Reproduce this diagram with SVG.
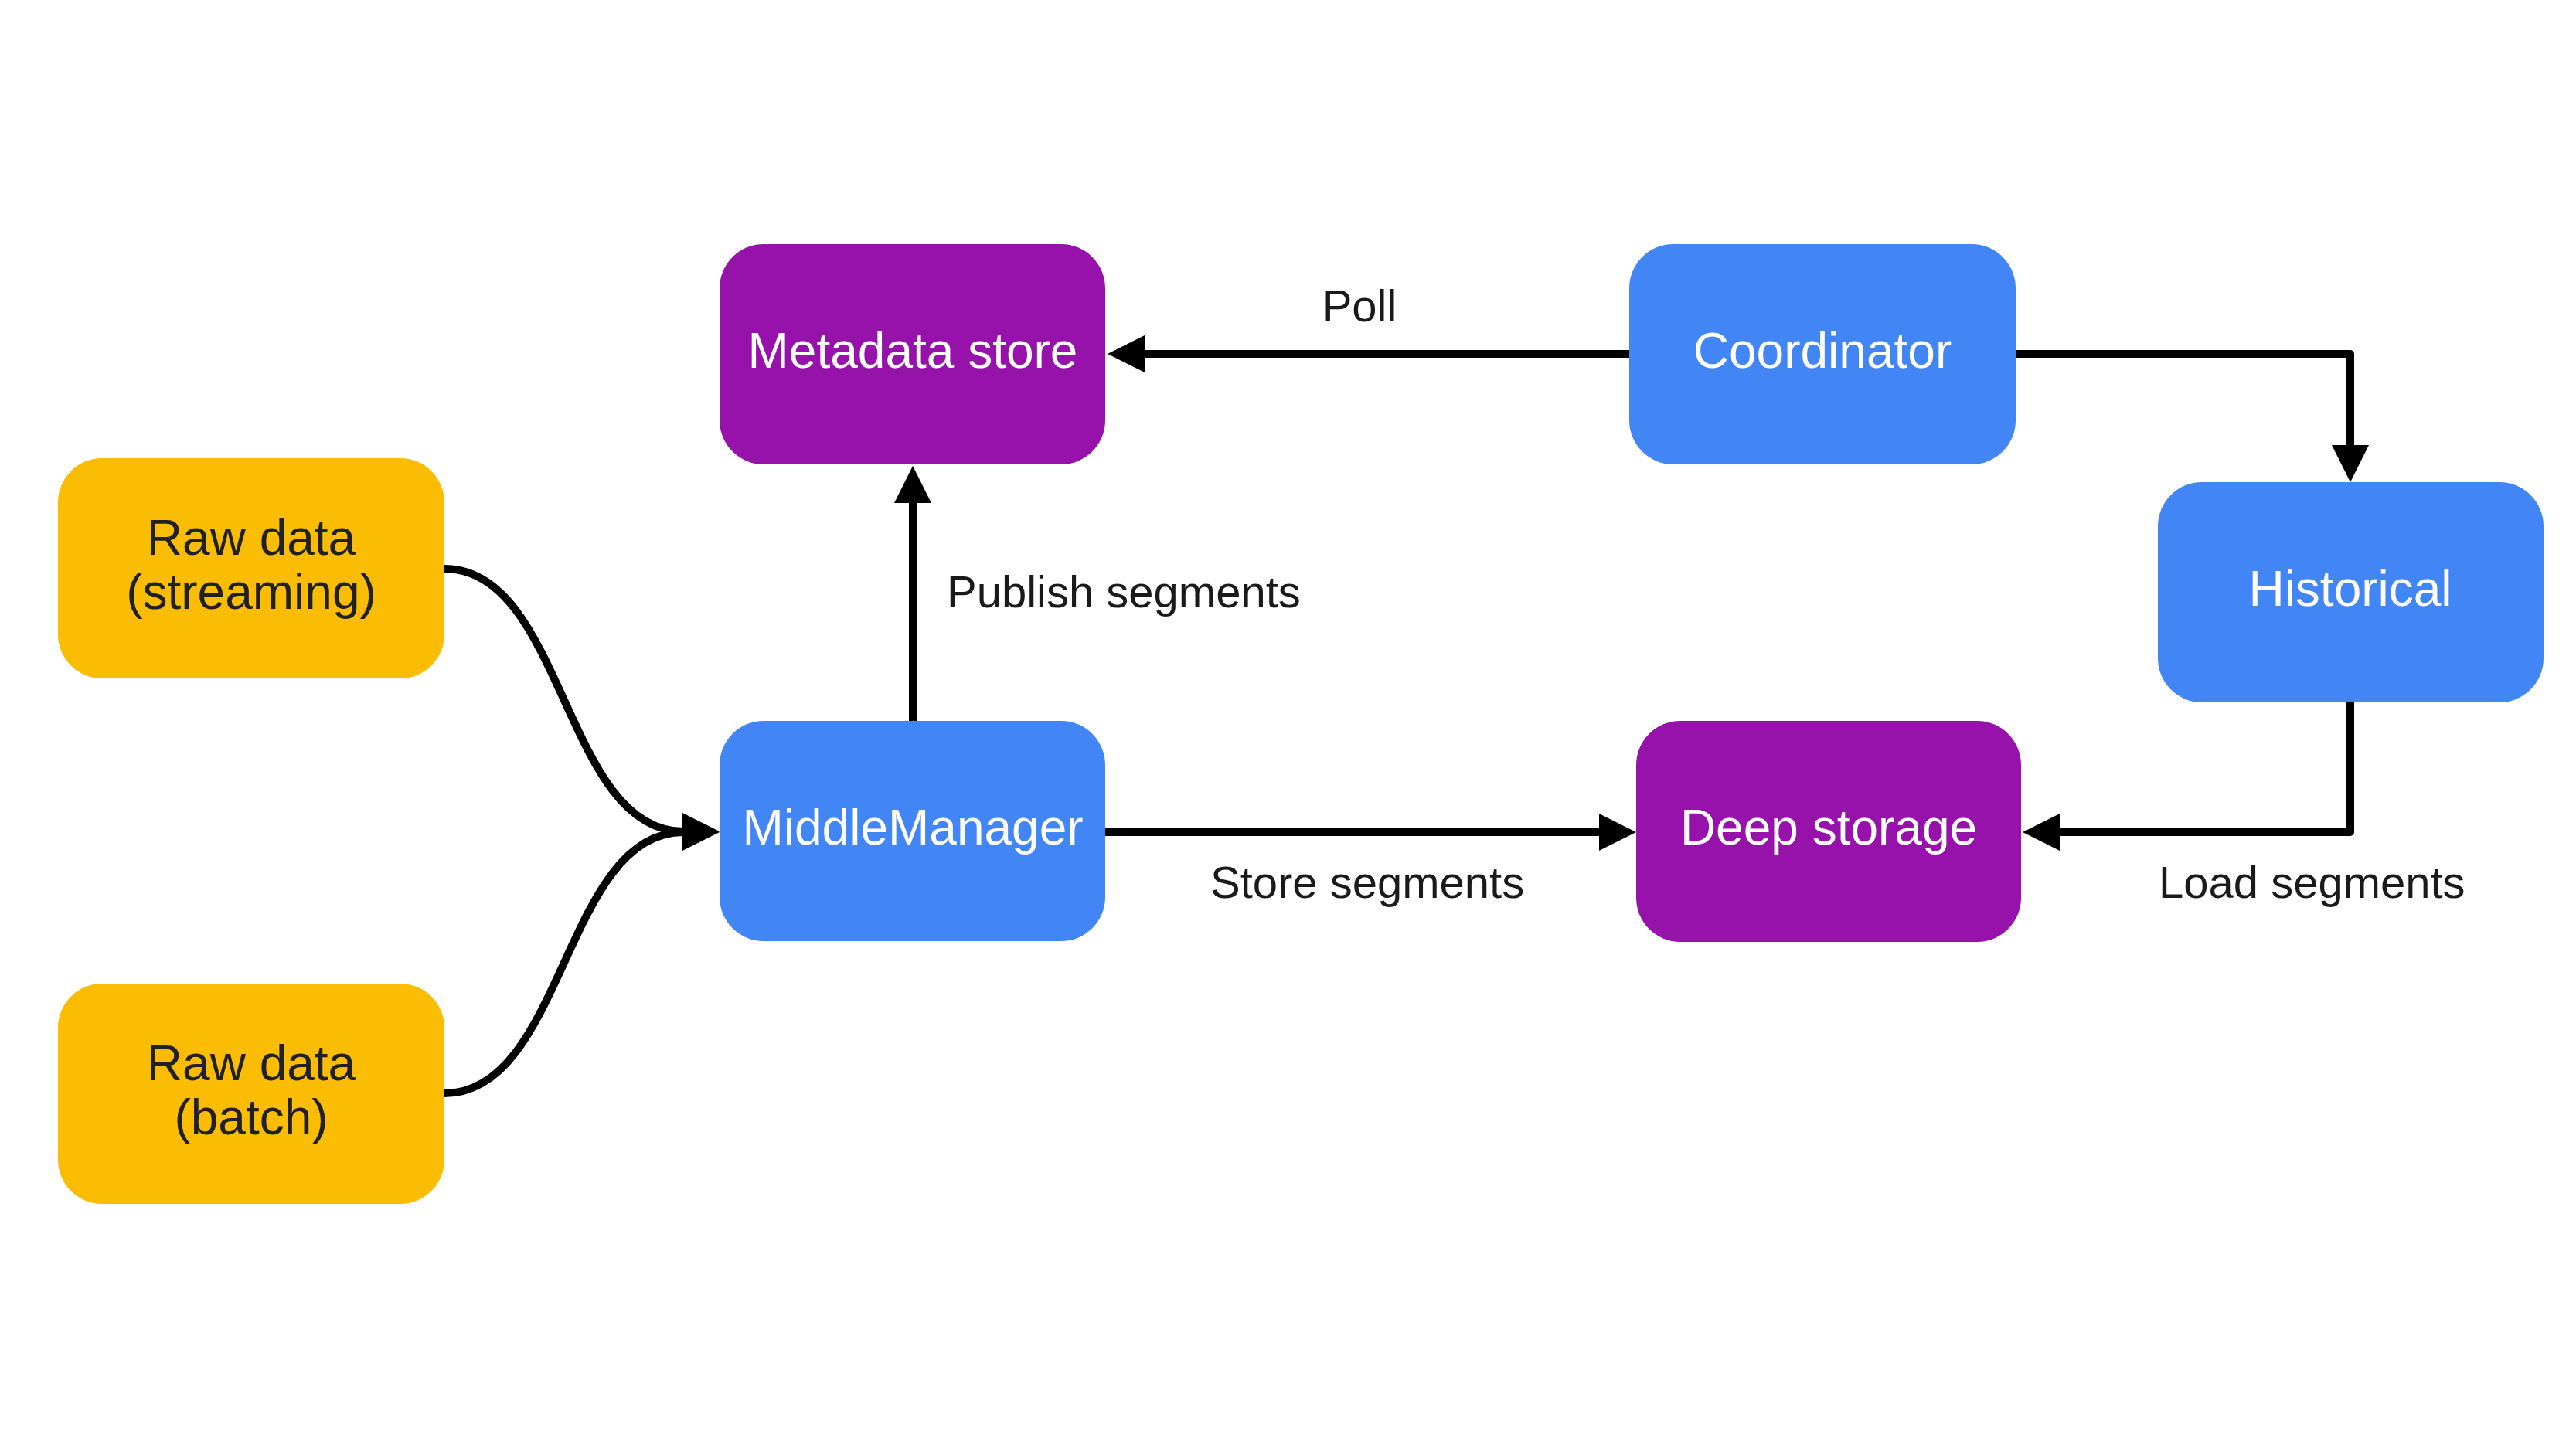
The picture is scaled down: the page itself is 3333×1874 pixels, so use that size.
<svg xmlns="http://www.w3.org/2000/svg" width="3333" height="1874" viewBox="0 0 3333 1874">
<style>
.node text{font-family:"Liberation Sans",Arial,sans-serif;font-size:64px;text-anchor:middle}
.yellow rect{fill:#FBBC04}
.yellow text{fill:#202124}
.purple rect{fill:#9612AB}
.blue rect{fill:#4285F4}
.purple text,.blue text{fill:#FFFFFF}
.edge{fill:none;stroke:#000;stroke-width:10;stroke-linejoin:round}
.lbl{font-family:"Liberation Sans",Arial,sans-serif;font-size:58px;fill:#1a1a1a}
</style>
<defs>
<marker id="arr" markerUnits="userSpaceOnUse" markerWidth="50" markerHeight="50" refX="1" refY="24" orient="auto" viewBox="0 0 50 50">
<path d="M0,0 L48,24 L0,48 Z" fill="#000"/>
</marker>
</defs>
<rect width="3333" height="1874" fill="#FFFFFF"/>

<g id="connectors">
<path id="e-stream" class="edge" d="M575,736 C730,736 730,1076 884,1076" marker-end="url(#arr)"/>
<path id="e-batch" class="edge" d="M575,1415 C730,1415 730,1077 884,1077" marker-end="url(#arr)"/>
<path id="e-publish" class="edge" d="M1181,933 L1181,650" marker-end="url(#arr)"/>
<path id="e-poll" class="edge" d="M2108,458 L1480,458" marker-end="url(#arr)"/>
<path id="e-coord-hist" class="edge" d="M2608,458 L3041,458 L3041,577" marker-end="url(#arr)"/>
<path id="e-store" class="edge" d="M1430,1077 L2070,1077" marker-end="url(#arr)"/>
<path id="e-load" class="edge" d="M3041,909 L3041,1077 L2664,1077" marker-end="url(#arr)"/>
<text class="lbl" x="1759" y="416" text-anchor="middle">Poll</text>
<text class="lbl" x="1225" y="786">Publish segments</text>
<text class="lbl" x="1566" y="1162">Store segments</text>
<text class="lbl" x="2793" y="1162">Load segments</text>
</g>

<g id="raw-streaming" class="node yellow">
<rect x="75" y="593" width="500" height="285" rx="57" ry="57"/>
<text x="325" y="718">Raw data</text>
<text x="325" y="788">(streaming)</text>
</g>
<g id="raw-batch" class="node yellow">
<rect x="75" y="1273" width="500" height="285" rx="57" ry="57"/>
<text x="325" y="1398">Raw data</text>
<text x="325" y="1468">(batch)</text>
</g>
<g id="metadata-store" class="node purple">
<rect x="931" y="316" width="499" height="285" rx="57" ry="57"/>
<text x="1181" y="476">Metadata store</text>
</g>
<g id="middlemanager" class="node blue">
<rect x="931" y="933" width="499" height="285" rx="57" ry="57"/>
<text x="1181" y="1093">MiddleManager</text>
</g>
<g id="coordinator" class="node blue">
<rect x="2108" y="316" width="500" height="285" rx="57" ry="57"/>
<text x="2358" y="476">Coordinator</text>
</g>
<g id="historical" class="node blue">
<rect x="2792" y="624" width="499" height="285" rx="57" ry="57"/>
<text x="3041" y="784">Historical</text>
</g>
<g id="deep-storage" class="node purple">
<rect x="2117" y="933" width="498" height="286" rx="57" ry="57"/>
<text x="2366" y="1093">Deep storage</text>
</g>
</svg>
